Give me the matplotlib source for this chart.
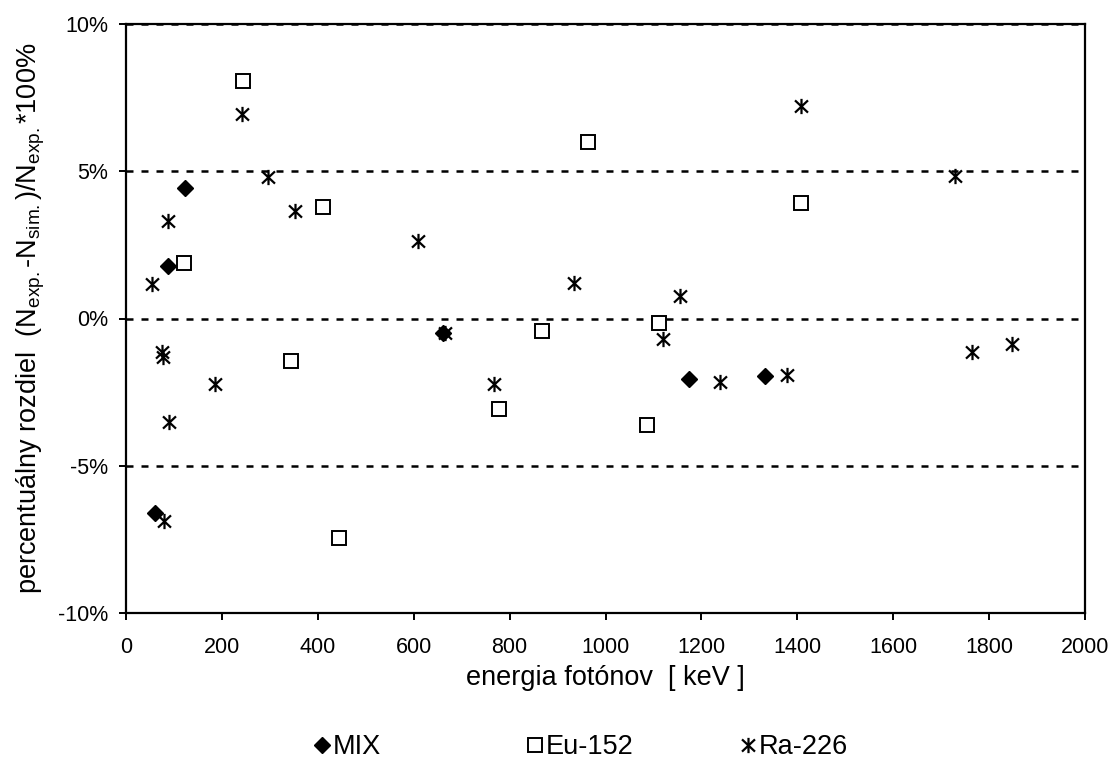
import numpy as np
import matplotlib.pyplot as plt
from matplotlib.path import Path
from matplotlib.ticker import MultipleLocator, FuncFormatter

plt.rcParams['font.family'] = ['Liberation Sans', 'DejaVu Sans']
plt.rcParams['mathtext.fontset'] = 'custom'
plt.rcParams['mathtext.rm'] = 'Liberation Sans'
plt.rcParams['mathtext.it'] = 'Liberation Sans:italic'
plt.rcParams['mathtext.bf'] = 'Liberation Sans:bold'

# energia [keV] a percentualny rozdiel [%] pre kazdy zdroj
mix_e = [59.5, 88.0, 122.1, 661.7, 1173.2, 1332.5]
mix_d = [-6.59, 1.77, 4.42, -0.48, -2.06, -1.96]

eu_e = [121.8, 244.7, 344.3, 411.1, 444.0, 778.9, 867.4, 964.1, 1085.8, 1112.1, 1408.0]
eu_d = [1.87, 8.07, -1.44, 3.77, -7.47, -3.08, -0.42, 5.99, -3.61, -0.14, 3.91]

ra_e = [53.2, 74.8, 77.1, 79.3, 87.3, 89.8, 186.2, 242.0, 295.2, 351.9, 609.3,
        665.4, 768.4, 934.1, 1120.3, 1155.2, 1238.1, 1377.7, 1408.0, 1729.6,
        1764.5, 1847.4]
ra_d = [1.16, -1.15, -1.30, -6.87, 3.31, -3.51, -2.23, 6.93, 4.79, 3.65, 2.63,
        -0.48, -2.23, 1.22, -0.70, 0.75, -2.15, -1.92, 7.20, 4.84, -1.15, -0.85]

# hviezdicka: zvisla ciara + dve uhlopriecky
star = Path([(0, -1), (0, 1), (-0.85, -0.8), (0.85, 0.8), (-0.85, 0.8), (0.85, -0.8)],
            [Path.MOVETO, Path.LINETO, Path.MOVETO, Path.LINETO, Path.MOVETO, Path.LINETO])

W, H = 1114, 761
fig = plt.figure(figsize=(W / 100, H / 100), dpi=100)
ax = fig.add_axes([126 / W, 1 - 613 / H, 959 / W, 589 / H])

h_mix, = ax.plot(mix_e, mix_d, linestyle='none', marker='D', ms=8, color='black',
                 label='MIX', zorder=3)
h_eu, = ax.plot(eu_e, eu_d, linestyle='none', marker='s', ms=9.5, mfc='white',
                mec='black', mew=1.4, label='Eu-152', zorder=3)
h_ra, = ax.plot(ra_e, ra_d, linestyle='none', marker=star, ms=11, color='black',
                mfc='none', mew=1.6, label='Ra-226', zorder=4)

ax.set_xlim(0, 2000)
ax.set_ylim(-10, 10)
ax.xaxis.set_major_locator(MultipleLocator(200))
ax.yaxis.set_major_locator(MultipleLocator(5))
ax.yaxis.set_major_formatter(FuncFormatter(lambda v, p: f"{v:.0f}%"))

ax.yaxis.grid(True, color='black', linewidth=1.8, linestyle=(0, (2.8, 3.2)))
ax.set_axisbelow(True)

for s in ax.spines.values():
    s.set_linewidth(1.6)
    s.set_color('black')

ax.tick_params(axis='both', direction='out', length=5, width=1.4,
               labelsize=15.5, colors='black')
ax.tick_params(axis='x', pad=12)
ax.tick_params(axis='y', pad=8)

ax.set_xlabel('energia fotónov  [ keV ]', fontsize=19.5, labelpad=5)
ax.set_ylabel('percentuálny rozdiel  (N$_{\\mathrm{exp.}}$-N$_{\\mathrm{sim.}}$)/N$_{\\mathrm{exp.}}$*100%',
              fontsize=19.5, labelpad=8)

# legenda pod grafom, polozky rovnomerne od seba
for h, x_mark in [(h_mix, 322), (h_eu, 535), (h_ra, 748)]:
    fig.legend([h], [h.get_label()], loc='center left',
               bbox_to_anchor=((x_mark - 8) / W, 1 - 747 / H),
               frameon=False, fontsize=19.5, handlelength=0.6, handletextpad=0.1,
               borderpad=0, borderaxespad=0)

fig.savefig('out.png', dpi=100)
